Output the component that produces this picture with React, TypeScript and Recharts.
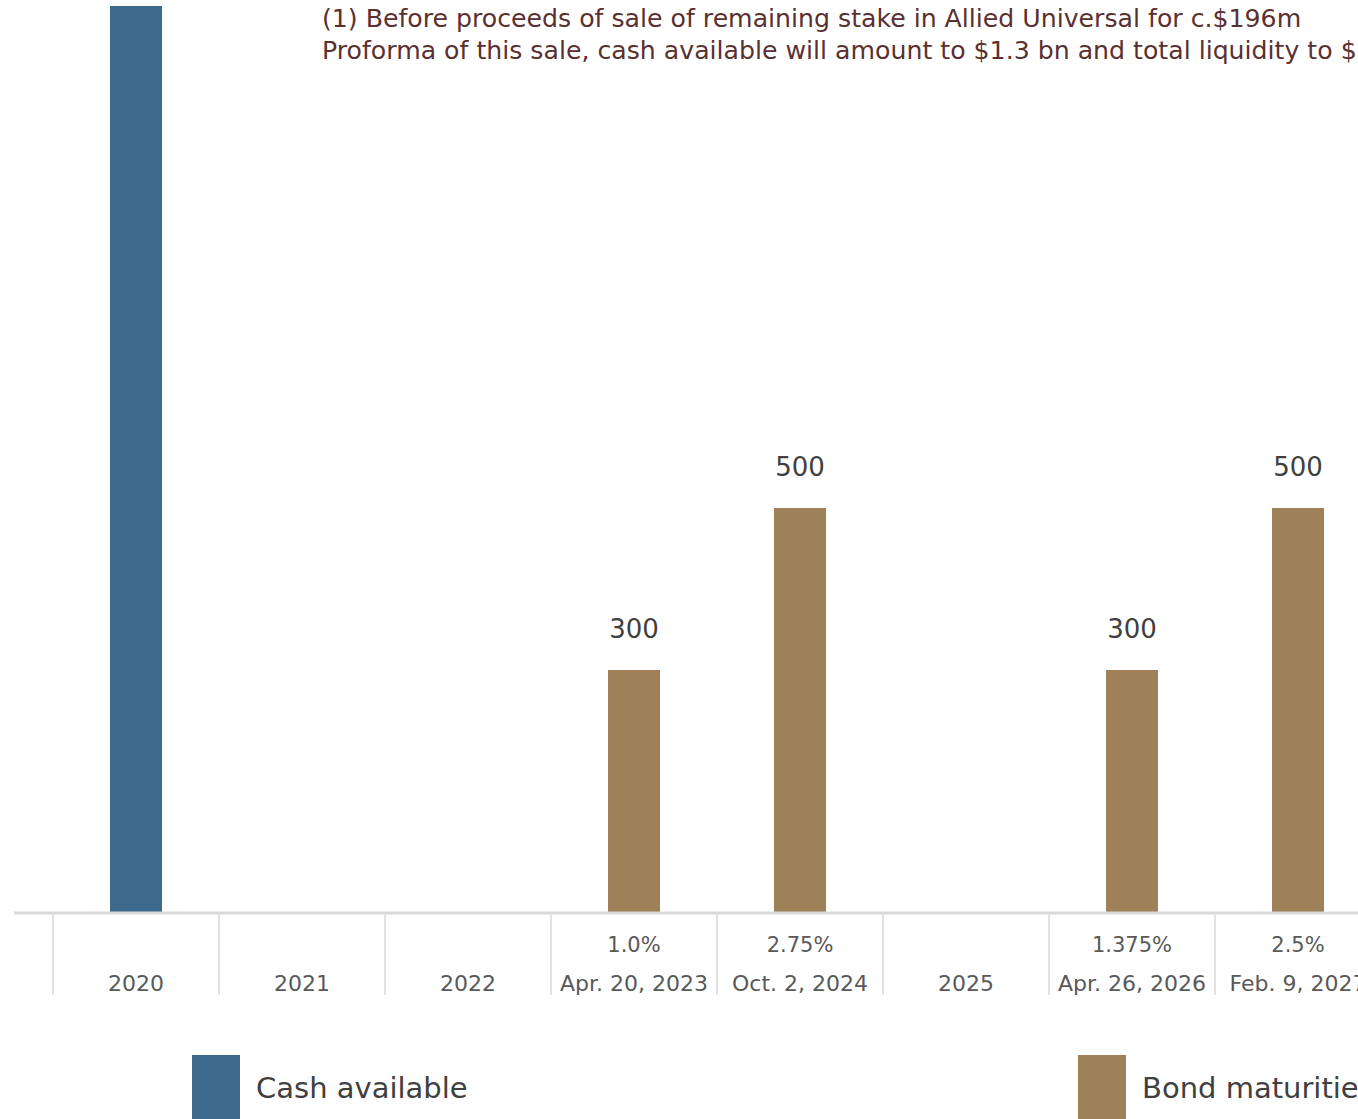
import { Bar, BarChart, LabelList, Legend, XAxis, YAxis } from "recharts";

const categories = [
  "2020",
  "2021",
  "2022",
  "Apr. 20, 2023",
  "Oct. 2, 2024",
  "2025",
  "Apr. 26, 2026",
  "Feb. 9, 2027",
];
const coupons = ["", "", "", "1.0%", "2.75%", "", "1.375%", "2.5%"];
const cashAvailable = [1120, null, null, null, null, null, null, null];
const bondMaturities = [null, null, null, 300, 500, null, 300, 500];

const noteLines = [
  "(1) Before proceeds of sale of remaining stake in Allied Universal for c.$196m",
  "Proforma of this sale, cash available will amount to $1.3 bn and total liquidity to $2.1 bn",
];

const CHART_W = 1400;
const CHART_H = 1119;
const PAD_LEFT = 39;
const PAD_RIGHT = 19;
const MARGIN_LEFT = 14;
const HALF_BAND = (CHART_W - MARGIN_LEFT - PAD_LEFT - PAD_RIGHT) / categories.length / 2;

const BLUE = "#3d6a8c";
const GOLD = "#9e8159";
const FONT = "'DejaVu Sans', sans-serif";

const data = categories.map((label, i) => ({
  label,
  cash: cashAvailable[i],
  bonds: bondMaturities[i],
}));

function CategoryTick({ x, y, payload, index }: any) {
  const rate = coupons[index];
  return (
    <g>
      <line x1={x - HALF_BAND} x2={x - HALF_BAND} y1={y + 2} y2={y + 82} stroke="#d9d9d9" strokeWidth={1.5} />
      {rate && (
        <text x={x} y={y + 39} textAnchor="middle" fill="#595959" fontSize={21} fontFamily={FONT}>
          {rate}
        </text>
      )}
      <text x={x} y={y + 78} textAnchor="middle" fill="#595959" fontSize={22} fontFamily={FONT}>
        {payload.value}
      </text>
    </g>
  );
}

function LegendContent() {
  const items = [
    { name: "Cash available", color: BLUE, left: 192 },
    { name: "Bond maturities", color: GOLD, left: 1078 },
  ];
  return (
    <div style={{ position: "relative", height: 0 }}>
      {items.map((it) => (
        <div key={it.name} style={{ position: "absolute", left: it.left, top: 0, display: "flex", alignItems: "flex-start" }}>
          <div style={{ width: 48, height: 70, background: it.color }} />
          <span style={{ marginLeft: 16, marginTop: 16, fontSize: 29, fontFamily: FONT, color: "#404040", whiteSpace: "nowrap" }}>
            {it.name}
          </span>
        </div>
      ))}
    </div>
  );
}

export default function App() {
  return (
    <div style={{ position: "fixed", left: 0, top: 0, width: 1358, height: 1119, overflow: "hidden", background: "#fff" }}>
      <div
        style={{
          position: "absolute",
          left: 322,
          top: 3,
          fontFamily: FONT,
          fontSize: 25.2,
          lineHeight: "32px",
          color: "#5a3030",
          whiteSpace: "nowrap",
          zIndex: 2,
        }}
      >
        {noteLines.map((l) => (
          <div key={l}>{l}</div>
        ))}
      </div>
      <BarChart
        width={CHART_W}
        height={CHART_H}
        data={data}
        margin={{ top: 6, right: 0, left: MARGIN_LEFT, bottom: 116 }}
      >
        <XAxis
          dataKey="label"
          interval={0}
          height={90}
          padding={{ left: PAD_LEFT, right: PAD_RIGHT }}
          axisLine={{ stroke: "#d9d9d9", strokeWidth: 3 }}
          tickLine={false}
          tickSize={0}
          tickMargin={0}
          tick={<CategoryTick />}
        />
        <YAxis hide domain={[0, 1120]} />
        <Legend
          verticalAlign="bottom"
          content={<LegendContent />}
          wrapperStyle={{ position: "absolute", left: 0, top: 1055, width: CHART_W, height: 0 }}
        />
        <Bar dataKey="cash" name="Cash available" stackId="a" fill={BLUE} barSize={52} isAnimationActive={false} />
        <Bar dataKey="bonds" name="Bond maturities" stackId="a" fill={GOLD} barSize={52} isAnimationActive={false}>
          <LabelList dataKey="bonds" position="top" offset={32} fill="#404040" fontSize={26} fontFamily={FONT} />
        </Bar>
      </BarChart>
    </div>
  );
}
